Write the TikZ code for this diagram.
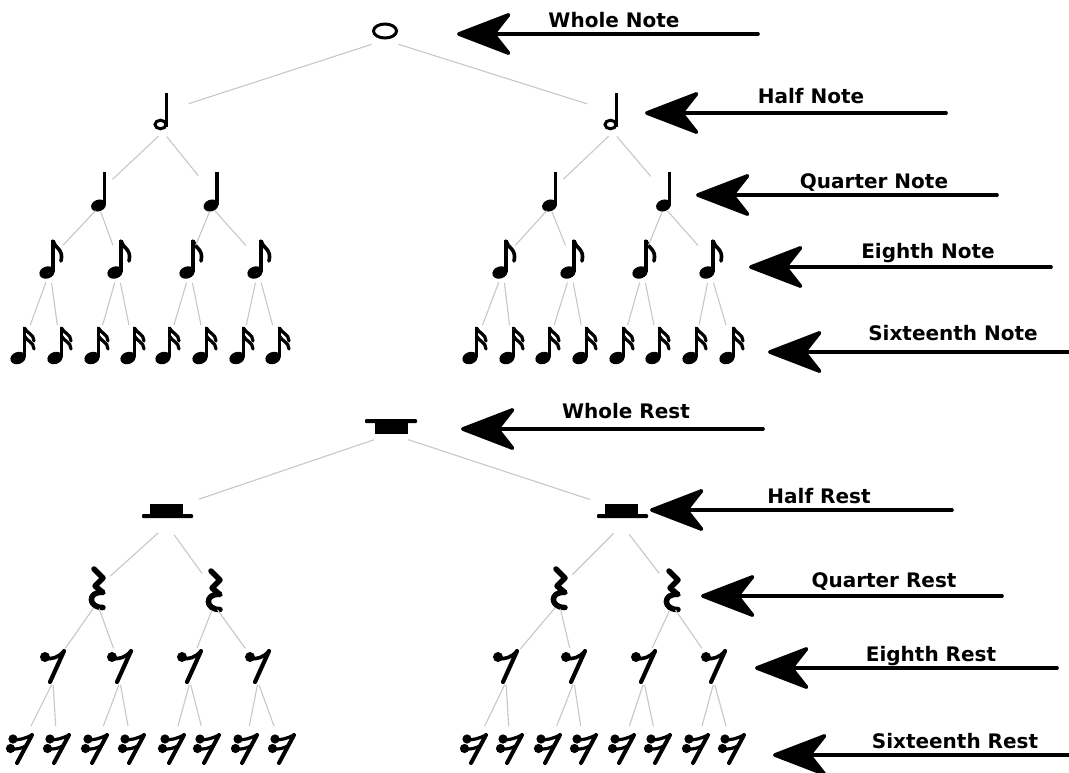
\documentclass[tikz,border=0pt]{standalone}
\usepackage{fontspec}
\newfontfamily\labfont{DejaVu Sans}
\usetikzlibrary{arrows.meta}
\tikzset{
  symbox/.style={inner sep=0pt, outer sep=0pt, minimum width=#1},
  wn/.style={symbox=26pt, minimum height=18pt},
  hn/.style={symbox=44pt, minimum height=40pt},
  qn/.style={symbox=24pt, minimum height=30pt},
  en/.style={symbox=24pt, minimum height=24pt},
  sn/.style={symbox=24pt, minimum height=36pt},
  wrn/.style={symbox=52pt, minimum height=16pt},
  hrn/.style={symbox=52pt, minimum height=30pt},
  qrn/.style={symbox=24pt, minimum height=30pt},
  ern/.style={symbox=26pt, minimum height=32pt},
  srn/.style={symbox=24pt, minimum height=40pt},
  link/.style={draw=black!22, line width=1.1pt},
  bigarrow/.style={line width=3.6pt, line cap=round,
    -{Stealth[length=60pt, width=46pt, inset=18pt, round]}},
  lab/.style={font=\labfont\bfseries\fontsize{20}{24}\selectfont, anchor=base, inner sep=0pt},
  pics/wholenote/.style={code={
    \draw[line width=3pt] (0,0) ellipse [x radius=11.5pt, y radius=7pt];}},
  pics/halfnote/.style={code={
    \draw[line width=3pt] (-2.5,12.5) ellipse [x radius=5.5pt, y radius=4.3pt];
    \draw[line width=3pt] (3.5,-19) -- (3.5,15);}},
  pics/quarternote/.style={code={
    \begin{scope}[shift={(-0.5,13.5)}, rotate=20]
      \fill (0,0) ellipse [x radius=7.6pt, y radius=5.8pt];
    \end{scope}
    \draw[line width=3.4pt] (5.5,-20) -- (5.5,13);}},
  pics/eighthnote/.style={code={
    \begin{scope}[shift={(-3,13.5)}, rotate=20]
      \fill (0,0) ellipse [x radius=7.8pt, y radius=6pt];
    \end{scope}
    \draw[line width=3.4pt] (3,-19) -- (3,13);
    \draw[line width=3.6pt, line cap=round] (3,-18) .. controls (4.5,-11) and (14,-10) .. (11,2);}},
  pics/sixteenthnote/.style={code={
    \begin{scope}[shift={(-5,13)}, rotate=20]
      \fill (0,0) ellipse [x radius=7.8pt, y radius=6pt];
    \end{scope}
    \draw[line width=3.4pt] (1.5,-18) -- (1.5,12);
    \draw[line width=3.2pt, line cap=round] (1.5,-17) .. controls (3.5,-12) and (11,-11) .. (11,-4);
    \draw[line width=3.2pt, line cap=round] (1.5,-9) .. controls (3.5,-4) and (11,-3) .. (11,4);}},
  pics/wholerest/.style={code={
    \fill[rounded corners=1pt] (-26,-7) rectangle (26,-3);
    \fill (-16,-3.5) rectangle (17,7.5);}},
  pics/halfrest/.style={code={
    \fill (-17,-6.5) rectangle (16,5);
    \fill[rounded corners=1pt] (-25,4) rectangle (26,8);}},
  pics/quarterrest/.style={code={
    \draw[line width=5.5pt, line join=round, line cap=round]
      (-3,-19) -- (6,-10) -- (-2,-2) -- (6,4.5) .. controls (-10,3) and (-9,20) .. (6,19.5);}},
  pics/eighthrest/.style={code={
    \fill (-8,-9) circle [radius=5pt];
    \draw[line width=3.6pt, line cap=round] (-8,-8) .. controls (-1,-6) and (6,-9) .. (11,-15);
    \draw[line width=4.2pt, line cap=round] (11,-15) -- (-3,16);}},
  pics/sixteenthrest/.style={code={
    \fill (-7,-9) circle [radius=4.6pt];
    \draw[line width=3.2pt, line cap=round] (-7,-8.5) .. controls (-1,-7.5) and (6,-10) .. (12,-13);
    \fill (-9.5,0.5) circle [radius=4.6pt];
    \draw[line width=3.2pt, line cap=round] (-9.5,1) .. controls (-4,1.5) and (2,0.5) .. (6.4,-2.5);
    \draw[line width=4pt, line cap=round] (12,-13) -- (-3,15);}}
}
\begin{document}
\begin{tikzpicture}[x=1pt, y=-1pt]
\useasboundingbox (0,0) rectangle (1069,772);

% ---------- note tree ----------
\node[wn] (W) at (385,31) {}; \pic at (W) {wholenote};
\foreach \x [count=\i] in {163,613} {\node[hn] (H\i) at (\x,112) {}; \pic at (H\i) {halfnote};}
\foreach \x [count=\i] in {99,211.5,550,664} {\node[qn] (Q\i) at (\x,192) {}; \pic at (Q\i) {quarternote};}
\foreach \x [count=\i] in {50,118,190,258,503,571,643,710} {\node[en] (E\i) at (\x,259) {}; \pic at (E\i) {eighthnote};}
\foreach \x [count=\i] in {23,60,97,133,168,205,242,278,475,512,548,585,622,658,695,732} {\node[sn] (S\i) at (\x,345) {}; \pic at (S\i) {sixteenthnote};}

\foreach \c in {H1,H2} \draw[link, shorten <=14pt, shorten >=4pt] (W.south) -- (\c);
\foreach \p/\c in {H1/Q1,H1/Q2,H2/Q3,H2/Q4} \draw[link, shorten <=6pt, shorten >=2pt] (\p.south) -- (\c);
\foreach \p/\c in {Q1/E1,Q1/E2,Q2/E3,Q2/E4,Q3/E5,Q3/E6,Q4/E7,Q4/E8} \draw[link, shorten <=5pt, shorten >=2pt] (\p.south) -- (\c);
\foreach \p [evaluate=\p as \a using int(2*\p-1), evaluate=\p as \b using int(2*\p)] in {1,...,8} {
  \draw[link, shorten <=12pt, shorten >=2pt] (E\p.south) -- (S\a);
  \draw[link, shorten <=12pt, shorten >=2pt] (E\p.south) -- (S\b);
}

% ---------- rest tree ----------
\node[wrn] (WR) at (391,426) {}; \pic at (WR) {wholerest};
\foreach \x [count=\i] in {167,622} {\node[hrn] (HR\i) at (\x,510) {}; \pic at (HR\i) {halfrest};}
\foreach \x/\y [count=\i] in {97/588,214/590,559/588,672/590} {\node[qrn] (QR\i) at (\x,\y) {}; \pic at (QR\i) {quarterrest};}
\foreach \x [count=\i] in {53,120,190,258,506,574,644,714} {\node[ern] (ER\i) at (\x,666) {}; \pic at (ER\i) {eighthrest};}
\foreach \x [count=\i] in {20,57,95,132,172,207,245,282,474,510,548,584,622,658,696,732} {\node[srn] (SR\i) at (\x,748) {}; \pic at (SR\i) {sixteenthrest};}

\foreach \c in {HR1,HR2} \draw[link, shorten <=18pt, shorten >=6pt] (WR.south) -- (\c);
\foreach \p/\c in {HR1/QR1,HR1/QR2,HR2/QR3,HR2/QR4} \draw[link, shorten <=12pt, shorten >=2pt] (\p.south) -- (\c);
\foreach \p/\c in {QR1/ER1,QR1/ER2,QR2/ER3,QR2/ER4,QR3/ER5,QR3/ER6,QR4/ER7,QR4/ER8} \draw[link, shorten <=6pt, shorten >=2pt] (\p.south) -- (\c);
\foreach \p [evaluate=\p as \a using int(2*\p-1), evaluate=\p as \b using int(2*\p)] in {1,...,8} {
  \draw[link, shorten <=3pt, shorten >=2pt] (ER\p.south) -- (SR\a);
  \draw[link, shorten <=3pt, shorten >=2pt] (ER\p.south) -- (SR\b);
}

% ---------- arrows and labels ----------
\foreach \n/\tip/\tail/\y/\tx/\ty/\txt in {
  wn/457/758/34/614/27/Whole Note,
  hn/645/946/113/811/103/Half Note,
  qn/696/997/195/874/188/Quarter Note,
  en/749/1051/267/928/258/Eighth Note,
  sn/768/1069/352/953/340/Sixteenth Note,
  wr/461/763/429/626/418/Whole Rest,
  hr/650/952/510/819/503/Half Rest,
  qr/701/1002/596/884/587/Quarter Rest,
  er/755/1057/668/931/661/Eighth Rest,
  sr/773/1069/755/955/748/Sixteenth Rest} {
  \coordinate (t-\n) at (\tip,\y);
  \coordinate (s-\n) at (\tail,\y);
  \draw[bigarrow] (s-\n) -- (t-\n);
  \node[lab] (l-\n) at (\tx,\ty) {\txt};
}
\end{tikzpicture}
\end{document}
